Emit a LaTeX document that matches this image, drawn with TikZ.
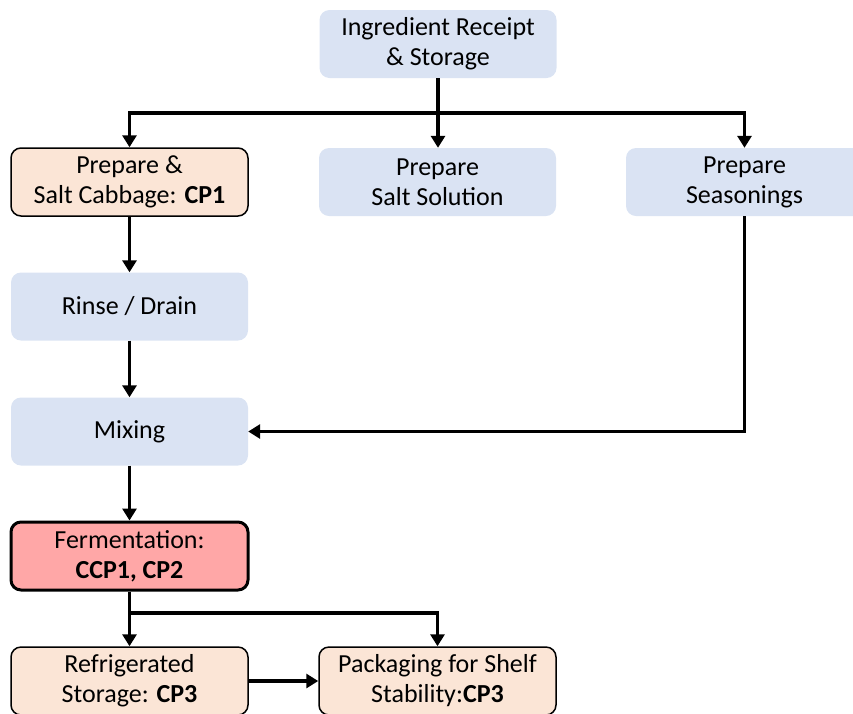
\documentclass[tikz,border=0pt]{standalone}
\usepackage{fontspec}
\setmainfont{Carlito}
\usetikzlibrary{arrows.meta}
\definecolor{bluebox}{HTML}{DAE3F3}
\definecolor{peachbox}{HTML}{FBE5D6}
\definecolor{redbox}{HTML}{FFA7A7}
\begin{document}
\begin{tikzpicture}[x=1pt,y=-1pt,
  box/.style={rounded corners=10pt, minimum width=237pt, minimum height=68pt, align=center, inner sep=0pt, font=\fontsize{26}{30}\selectfont},
  bluestep/.style={box, fill=bluebox},
  peachstep/.style={box, fill=peachbox, draw=black, line width=1.5pt},
  ccpstep/.style={box, fill=redbox, draw=black, line width=3pt},
  arr/.style={line width=3.5pt, -{Triangle[width=14pt,length=12pt]}},
  ln/.style={line width=3.5pt}]
\useasboundingbox (0,0) rectangle (853,713);
\clip (0,0) rectangle (853,713);
\node[bluestep] (ing) at (438,44) {Ingredient Receipt\\\& Storage};
\node[peachstep] (cab) at (129.5,182) {Prepare \&\\Salt Cabbage: \textbf{CP1}};
\node[bluestep] (sol) at (437.5,182) {Prepare\\Salt Solution};
\node[bluestep] (sea) at (744.5,182) {Prepare\\Seasonings};
\node[bluestep] (rin) at (129.5,306.5) {Rinse / Drain};
\node[bluestep] (mix) at (129.5,431.5) {Mixing};
\node[ccpstep] (fer) at (129.5,556) {Fermentation:\\\textbf{CCP1, CP2}};
\node[peachstep] (ref) at (129.5,681) {Refrigerated\\Storage: \textbf{CP3}};
\node[peachstep] (pac) at (437.5,681) {Packaging for Shelf\\Stability:\textbf{CP3}};
\coordinate (j1) at (438,113);
\coordinate (j2) at (129.5,613);
\draw[arr] (ing.south) -- (ing.south |- sol.north);
\draw[arr] (j1) -| (cab.north);
\draw[arr] (j1) -| (sea.north);
\draw[arr] (cab.south) -- (rin.north);
\draw[arr] (rin.south) -- (mix.north);
\draw[arr] (sea.south) |- (mix.east);
\draw[arr] (mix.south) -- (fer.north);
\draw[arr] (fer.south) -- (ref.north);
\draw[arr] (j2) -| (pac.north);
\draw[arr] (ref.east) -- (pac.west);
\end{tikzpicture}
\end{document}
